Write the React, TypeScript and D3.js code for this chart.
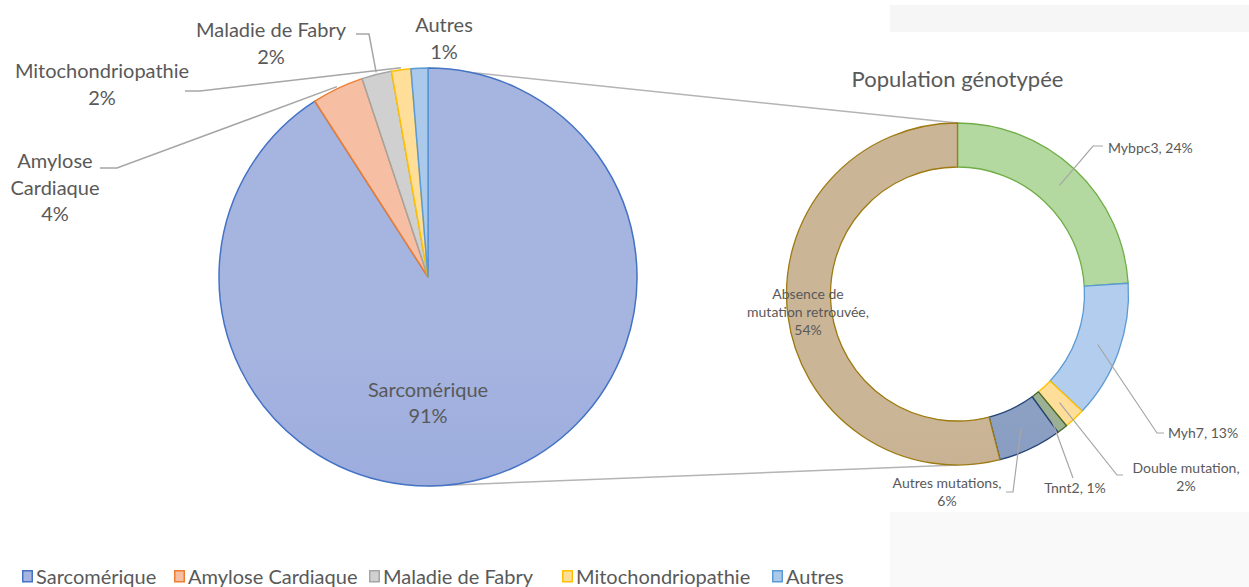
import { useRef, useEffect } from 'react';
import * as d3 from 'd3';

// main pie
const pieCats = ['Sarcomérique', 'Amylose Cardiaque', 'Maladie de Fabry', 'Mitochondriopathie', 'Autres'];
const pieValues = [90.9, 4.0, 2.3, 1.5, 1.3];
const pieLabels = ['91%', '4%', '2%', '2%', '1%'];

// donut (population génotypée)
const genoCats = ['Mybpc3', 'Myh7', 'Double mutation', 'Tnnt2', 'Autres mutations', 'Absence de mutation retrouvée'];
const genoValues = [24, 13, 2, 1, 6, 54];
const genoLabels = ['24%', '13%', '2%', '1%', '6%', '54%'];

const pieFillTop = ['#A6B4E0', '#F6BFA3', '#D0D0D0', '#FEDE98', '#ABC9EA'];
const pieFillBot = ['#889DD7', '#F2B08F', '#BEBEBE', '#FDD37C', '#94B8E2'];
const pieStroke = ['#4472C4', '#ED7D31', '#A5A5A5', '#FFC000', '#5B9BD5'];

const genoFillTop = ['#B3D9A0', '#B2CDEE', '#FEDE98', '#9CB094', '#8CA0C4', '#CAB597'];
const genoFillBot = ['#98C57A', '#92B9E3', '#FDD37C', '#7F9879', '#6F88AE', '#BDA27B'];
const genoStroke = ['#70AD47', '#5B9BD5', '#FFC000', '#43682B', '#264478', '#9E7A10'];

const TXT = '#595959';
const LINE = '#A6A6A6';
const FONT = 'Lato, "Open Sans", sans-serif';

const App = () => {
    const svgRef = useRef<SVGSVGElement | null>(null);

    const renderChart = () => {
        const svgElement = svgRef.current;
        if (!svgElement) return;
        const width = 1249;
        const height = 587;

        const svg = d3.select(svgElement)
            .attr('width', width)
            .attr('height', height)
            .style('font-family', FONT);
        svg.selectAll('*').remove();

        // faint panels behind the donut (screenshot background)
        svg.append('rect').attr('x', 890).attr('y', 5).attr('width', 359).attr('height', 27).attr('fill', '#F6F6F6');
        svg.append('rect').attr('x', 890).attr('y', 512).attr('width', 359).attr('height', 75).attr('fill', '#F9F9F9');

        const defs = svg.append('defs');

        const cx = 428, cy = 277, R = 209;
        const dcx = 957.5, dcy = 294, dR = 171, dr = 127;

        const addGrad = (id: string, top: string, bot: string, y0: number, y1: number) => {
            const g = defs.append('linearGradient')
                .attr('id', id)
                .attr('gradientUnits', 'userSpaceOnUse')
                .attr('x1', 0).attr('x2', 0)
                .attr('y1', y0).attr('y2', y1);
            g.append('stop').attr('offset', '0%').attr('stop-color', top);
            g.append('stop').attr('offset', '100%').attr('stop-color', bot);
        };
        pieCats.forEach((_, i) => addGrad(`pg${i}`, pieFillTop[i], pieFillBot[i], cy - R, cy + R));
        genoCats.forEach((_, i) => addGrad(`dg${i}`, genoFillTop[i], genoFillBot[i], dcy - dR, dcy + dR));

        // series lines joining the pie to the donut
        svg.append('line')
            .attr('x1', cx).attr('y1', cy - R)
            .attr('x2', dcx).attr('y2', dcy - dR)
            .attr('stroke', '#B4B4B4').attr('stroke-width', 1.5);
        svg.append('line')
            .attr('x1', cx).attr('y1', cy + R)
            .attr('x2', dcx).attr('y2', dcy + dR)
            .attr('stroke', '#B4B4B4').attr('stroke-width', 1.5);

        // ---- main pie
        const pie = d3.pie<number>().sort(null).value(d => d);
        const arcs = pie(pieValues);
        const arc = d3.arc<d3.PieArcDatum<number>>().innerRadius(0).outerRadius(R);
        const edgeArc = d3.arc<d3.PieArcDatum<number>>().innerRadius(R + 2).outerRadius(R + 2);

        const gp = svg.append('g').attr('transform', `translate(${cx},${cy})`);
        gp.selectAll('path')
            .data(arcs)
            .join('path')
            .attr('d', arc)
            .attr('fill', (_, i) => `url(#pg${i})`)
            .attr('stroke', (_, i) => pieStroke[i])
            .attr('stroke-width', 1.5)
            .attr('stroke-linejoin', 'round');

        // inside label
        const inside = gp.append('text')
            .attr('text-anchor', 'middle')
            .attr('fill', TXT)
            .style('font-size', '20px');
        inside.append('tspan').attr('x', 0).attr('y', 120).text(pieCats[0]);
        inside.append('tspan').attr('x', 0).attr('y', 146).text(pieLabels[0]);

        // outside labels
        const outer = [
            { i: 1, lines: ['Amylose', 'Cardiaque', pieLabels[1]], x: 55, y: 168, elbow: [[100, 168], [117, 168]] },
            { i: 2, lines: [pieCats[2], pieLabels[2]], x: 271, y: 37, elbow: [[356, 34], [369, 34]] },
            { i: 3, lines: [pieCats[3], pieLabels[3]], x: 102, y: 78, elbow: [[185, 91], [200, 91]] },
            { i: 4, lines: [pieCats[4], pieLabels[4]], x: 444, y: 32, elbow: null },
        ];
        outer.forEach(o => {
            const t = svg.append('text')
                .attr('text-anchor', 'middle')
                .attr('fill', TXT)
                .style('font-size', '20px');
            o.lines.forEach((l, k) => t.append('tspan').attr('x', o.x).attr('y', o.y + k * 26.5).text(l));
            if (o.elbow) {
                const [ex, ey] = edgeArc.centroid(arcs[o.i]);
                const pts: [number, number][] = [...(o.elbow as [number, number][]), [cx + ex, cy + ey]];
                svg.append('path')
                    .attr('d', d3.line()(pts))
                    .attr('fill', 'none')
                    .attr('stroke', LINE)
                    .attr('stroke-width', 1.5);
            }
        });

        // ---- donut
        const darcs = pie(genoValues);
        const darc = d3.arc<d3.PieArcDatum<number>>().innerRadius(dr).outerRadius(dR);
        const gd = svg.append('g').attr('transform', `translate(${dcx},${dcy})`);
        gd.selectAll('path')
            .data(darcs)
            .join('path')
            .attr('d', darc)
            .attr('fill', (_, i) => `url(#dg${i})`)
            .attr('stroke', (_, i) => genoStroke[i])
            .attr('stroke-width', 1.3)
            .attr('stroke-linejoin', 'round');

        svg.append('text')
            .attr('x', dcx)
            .attr('y', 87)
            .attr('text-anchor', 'middle')
            .attr('fill', TXT)
            .style('font-size', '22px')
            .text('Population génotypée');

        const dlabels = [
            { i: 0, lines: [`${genoCats[0]}, ${genoLabels[0]}`], x: 1108, y: 153, anchor: 'start', elbow: [[1103, 146], [1093, 146]] },
            { i: 1, lines: [`${genoCats[1]}, ${genoLabels[1]}`], x: 1168, y: 438, anchor: 'start', elbow: [[1164, 433], [1157, 433]] },
            { i: 2, lines: [`${genoCats[2]},`, genoLabels[2]], x: 1186, y: 473, anchor: 'middle', elbow: [[1123, 475], [1117, 475]] },
            { i: 3, lines: [`${genoCats[3]}, ${genoLabels[3]}`], x: 1075, y: 493, anchor: 'middle', elbow: [[1073, 478]] },
            { i: 4, lines: [`${genoCats[4]},`, genoLabels[4]], x: 947, y: 488, anchor: 'middle', elbow: [[1006, 492], [1013, 492]] },
            { i: 5, lines: ['Absence de', 'mutation retrouvée,', genoLabels[5]], x: 808, y: 299, anchor: 'middle', elbow: null },
        ];
        dlabels.forEach(o => {
            if (o.elbow) {
                const [ex, ey] = darc.centroid(darcs[o.i]);
                const pts: [number, number][] = [...(o.elbow as [number, number][]), [dcx + ex, dcy + ey]];
                svg.append('path')
                    .attr('d', d3.line()(pts))
                    .attr('fill', 'none')
                    .attr('stroke', LINE)
                    .attr('stroke-width', 1.2);
            }
            const t = svg.append('text')
                .attr('text-anchor', o.anchor)
                .attr('fill', TXT)
                .style('font-size', '14px');
            o.lines.forEach((l, k) => t.append('tspan').attr('x', o.x).attr('y', o.y + k * 18).text(l));
        });

        // ---- legend
        const legend = svg.append('g').attr('transform', 'translate(0, 570)');
        const xs = [22, 174, 369, 562, 772];
        pieCats.forEach((c, i) => {
            const g = legend.append('g').attr('transform', `translate(${xs[i]},0)`);
            g.append('rect')
                .attr('x', 0.75).attr('y', 0.75)
                .attr('width', 9.5).attr('height', 11)
                .attr('fill', pieFillTop[i])
                .attr('stroke', pieStroke[i])
                .attr('stroke-width', 1.5);
            g.append('text')
                .attr('x', 14)
                .attr('y', 13.5)
                .attr('fill', TXT)
                .style('font-size', '20px')
                .text(c);
        });
    };

    useEffect(() => {
        renderChart();
    }, []);

    return (
        <svg ref={svgRef} style={{ position: 'absolute', left: 0, top: 0, background: '#fff' }}></svg>
    );
};

export default App;
